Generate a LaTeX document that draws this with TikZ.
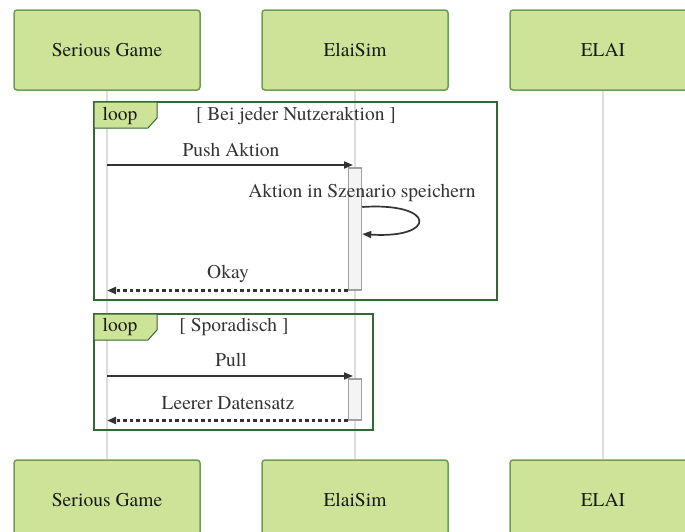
\documentclass[tikz,border=0pt]{standalone}
\usepackage{fontspec}
\setmainfont{texgyretermes}[Extension=.otf, UprightFont=*-regular,
  BoldFont=*-bold, ItalicFont=*-italic, BoldItalicFont=*-bolditalic]
\usetikzlibrary{arrows.meta}

\definecolor{actorfill}{HTML}{CDE498}
\definecolor{actorline}{HTML}{6E9E54}
\definecolor{loopline}{HTML}{326932}
\definecolor{lifeline}{HTML}{DDDDDD}
\definecolor{actfill}{HTML}{F4F4F4}
\definecolor{actline}{HTML}{A0A0A0}
\definecolor{msgline}{HTML}{333333}

\tikzset{
  actor/.style={draw=actorline, fill=actorfill, line width=1.5pt,
    rounded corners=3pt, minimum width=186pt, minimum height=80pt,
    inner sep=0pt, text=black!90, font=\fontsize{19.5}{22}\selectfont},
  lifeln/.style={draw=lifeline, line width=2pt},
  loopframe/.style={draw=loopline, line width=2pt},
  looptab/.style={draw=loopline, fill=actorfill, line width=1pt},
  activation/.style={draw=actline, fill=actfill, line width=1.5pt,
    minimum width=13pt, inner sep=0pt, anchor=north},
  msg/.style={draw=msgline, line width=1.7pt,
    -{Triangle[length=9pt,width=7pt]}},
  reply/.style={msg, line width=2.1pt, dash pattern=on 3.5pt off 3pt},
  msglabel/.style={text=msgline, inner sep=0pt,
    font=\fontsize{19.5}{22}\selectfont},
}

\begin{document}
\begin{tikzpicture}[x=1pt, y=-1pt]
  \useasboundingbox (0,0) rectangle (685,531);
  \clip (0,0) rectangle (685,531);

  % participants, top and bottom
  \node[actor] (sgT) at (107,50)  {Serious Game};
  \node[actor] (esT) at (355,50)  {ElaiSim};
  \node[actor] (elT) at (603,50)  {ELAI};
  \node[actor] (sgB) at (107,500) {Serious Game};
  \node[actor] (esB) at (355,500) {ElaiSim};
  \node[actor] (elB) at (603,500) {ELAI};

  % lifelines
  \draw[lifeln] (sgT.south) -- (sgB.north);
  \draw[lifeln] (esT.south) -- (esB.north);
  \draw[lifeln] (elT.south) -- (elB.north);

  % loop frames
  \draw[loopframe] (94,102) rectangle (497,300);
  \draw[looptab] (94,102) -- (157,102) -- (157,118) -- (148,128) -- (94,128) -- cycle;
  \node[msglabel, text=black!90] (l1tag) at (120,116) {loop};
  \node[msglabel] (l1cond) at (296,116) {[ Bei jeder Nutzeraktion ]};

  \draw[loopframe] (94,314) rectangle (373,430);
  \draw[looptab] (94,314) -- (157,314) -- (157,330) -- (148,340) -- (94,340) -- cycle;
  \node[msglabel, text=black!90] (l2tag) at (120,327) {loop};
  \node[msglabel] (l2cond) at (234,327) {[ Sporadisch ]};

  % activation bars on ElaiSim
  \node[activation, minimum height=122pt] (act1) at (355,167) {};
  \node[activation, minimum height=41pt]  (act2) at (355,378) {};

  % message anchor points
  \coordinate (push0) at (sgT.south |- 0,165);
  \coordinate (push1) at (353,165);
  \coordinate (self0) at (act1.east |- 0,207);
  \coordinate (self1) at (act1.east |- 0,234);
  \coordinate (okay1) at (sgT.south |- act1.south);
  \coordinate (pull0) at (sgT.south |- 0,376);
  \coordinate (pull1) at (353,376);
  \coordinate (leer1) at (sgT.south |- act2.south);

  % messages
  \draw[msg] (push0) -- (push1);
  \node[msglabel] (lpush) at (231,150) {Push Aktion};

  \draw[msg] (self0) .. controls (437,202) and (437,239) .. (self1);
  \node[msglabel] (lself) at (362,193) {Aktion in Szenario speichern};

  \draw[reply] (act1.south west) -- (okay1);
  \node[msglabel] (lokay) at (228,274) {Okay};

  \draw[msg] (pull0) -- (pull1);
  \node[msglabel] (lpull) at (231,360) {Pull};

  \draw[reply] (act2.south west) -- (leer1);
  \node[msglabel] (lleer) at (228,403) {Leerer Datensatz};
\end{tikzpicture}
\end{document}
